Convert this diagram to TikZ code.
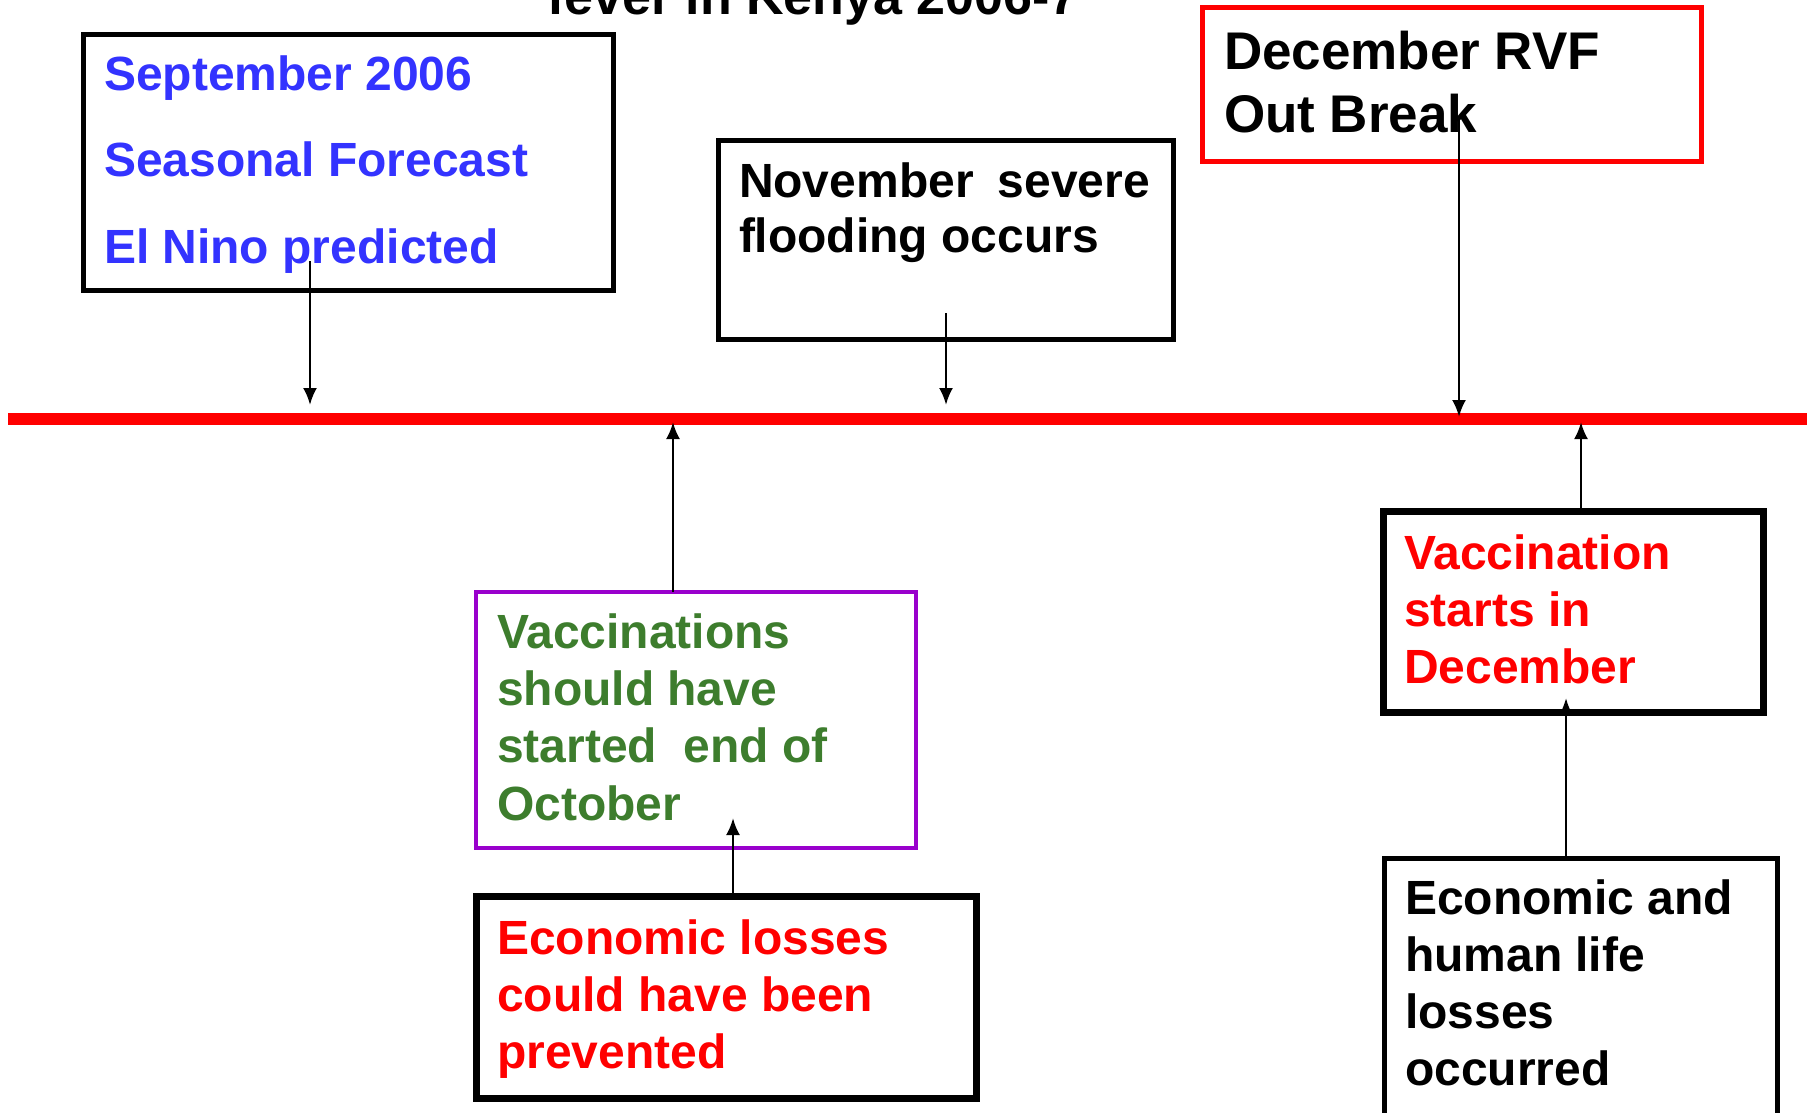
\documentclass[tikz,border=0pt]{standalone}
\usepackage{fontspec}
\setmainfont{Liberation Sans}
\usetikzlibrary{arrows.meta}
\definecolor{tblue}{RGB}{51,51,255}
\definecolor{tred}{RGB}{255,0,0}
\definecolor{tgreen}{RGB}{61,125,45}
\definecolor{tpurple}{RGB}{153,0,204}
\tikzset{
  boxframe/.style={draw, rectangle, anchor=north west, inner sep=0pt, outer sep=0pt},
  txt/.style={anchor=base west, align=left, inner sep=0pt, outer sep=0pt},
  arr/.style={line width=2.6pt, -{Latex[length=17pt,width=14pt]}},
}
\begin{document}
\begin{tikzpicture}[x=1pt,y=-1pt]
\useasboundingbox (0,0) rectangle (1816,1112);
% title (cut off at top)
\node[font=\fontsize{52}{60}\selectfont\bfseries, anchor=base, inner sep=0pt] (title) at (813,14) {fever in Kenya 2006-7};

% timeline
\coordinate (tlL) at (8,419);
\coordinate (tlR) at (1807,419);
\draw[tred, line width=12pt] (tlL) -- (tlR);

% boxes
\node[boxframe, line width=5pt, minimum width=530pt, minimum height=256pt] (sep) at (83,34) {};
\node[boxframe, line width=5pt, minimum width=455pt, minimum height=199pt] (nov) at (718,140) {};
\node[boxframe, draw=tred, line width=5pt, minimum width=499pt, minimum height=154pt] (dec) at (1202,7) {};
\node[boxframe, line width=7pt, minimum width=380pt, minimum height=201pt] (vd) at (1383,511) {};
\node[boxframe, line width=5pt, minimum width=393pt, minimum height=270pt] (eh) at (1384,858) {};
\node[boxframe, draw=tpurple, line width=4.5pt, minimum width=440pt, minimum height=256pt] (vs) at (476,592) {};
\node[boxframe, line width=7pt, minimum width=500pt, minimum height=202pt] (el) at (476,896) {};

% texts (anchored at the baseline of their last line)
\node[txt, text=tblue, font=\fontsize{48}{86.5}\selectfont\bfseries] (septxt) at (104,263)
  {September 2006\\Seasonal Forecast\\El Nino predicted};
\node[txt, font=\fontsize{48}{55}\selectfont\bfseries] (novtxt) at (739,252)
  {\hbox to 411pt{November\hfill severe}\\flooding occurs};
\node[txt, font=\fontsize{53}{63}\selectfont\bfseries] (dectxt) at (1224,132)
  {December RVF\\Out Break};
\node[txt, text=tred, font=\fontsize{48}{57}\selectfont\bfseries] (vdtxt) at (1404,683)
  {Vaccination\\starts in\\December};
\node[txt, font=\fontsize{48}{57}\selectfont\bfseries] (ehtxt) at (1405,1085)
  {Economic and\\human life\\losses\\occurred};
\node[txt, text=tgreen, font=\fontsize{48}{57.3}\selectfont\bfseries] (vstxt) at (497,820)
  {Vaccinations\\should have\\started\ \ end of\\October};
\node[txt, text=tred, font=\fontsize{48}{57}\selectfont\bfseries] (eltxt) at (497,1068)
  {Economic losses\\could have been\\prevented};

% connector end points
\coordinate (s1) at (310,261);
\coordinate (t1) at (310,405);
\coordinate (s2) at (946,313);
\coordinate (t2) at (946,405);
\coordinate (s3) at (1459,116);
\coordinate (t3) at (1459,417);
\coordinate (t4) at (1581,422);
\coordinate (t5) at (1566,698);
\coordinate (t6) at (673,422);
\coordinate (t7) at (733,818);

\draw[arr] (s1) -- (t1);
\draw[arr] (s2) -- (t2);
\draw[arr] (s3) -- (t3);
\draw[arr] (vd.north -| t4) -- (t4);
\draw[arr] (eh.north -| t5) -- (t5);
\draw[arr] (vs.north -| t6) -- (t6);
\draw[arr] (el.north -| t7) -- (t7);
\end{tikzpicture}
\end{document}
